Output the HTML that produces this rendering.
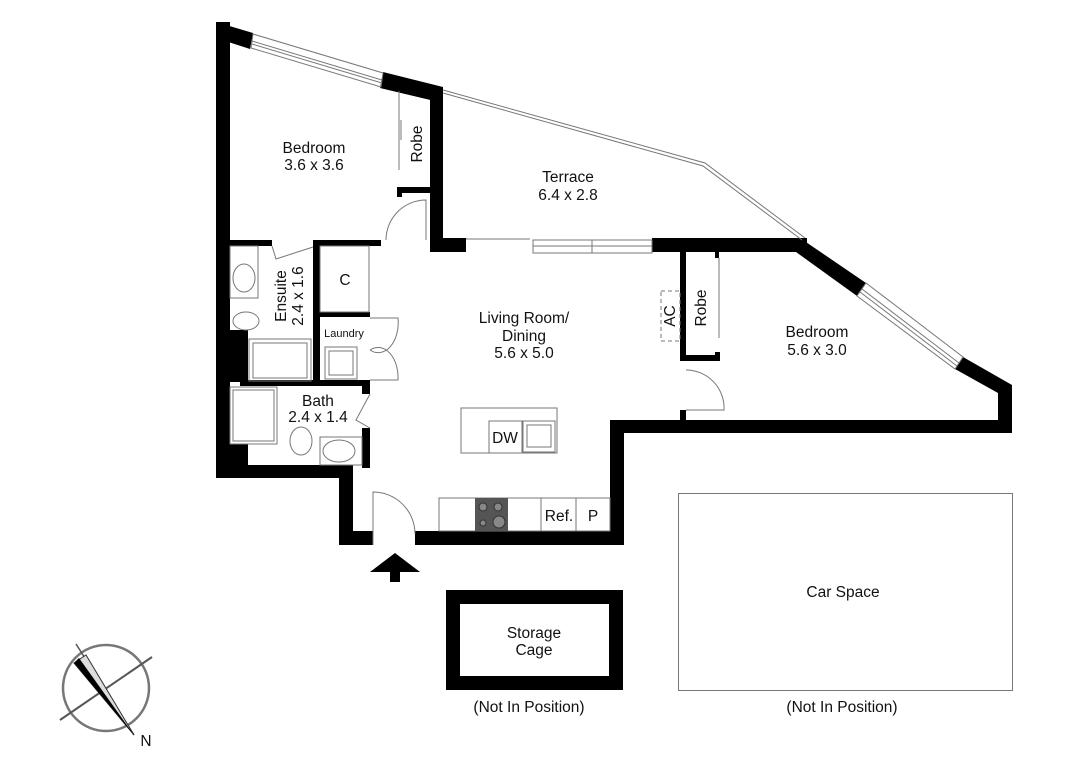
<!DOCTYPE html>
<html><head><meta charset="utf-8"><style>
html,body{margin:0;padding:0;background:#fff;}
svg{display:block;font-family:"Liberation Sans",Arial,sans-serif;}
text{fill:#111;}
</style></head><body>
<svg width="1079" height="769" viewBox="0 0 1079 769" xmlns="http://www.w3.org/2000/svg">
<g fill="#000" stroke="none">
<rect x="216" y="22" width="14" height="456"/>
<rect x="216" y="330" width="32" height="52"/>
<rect x="216" y="382" width="14" height="60"/>
<rect x="216" y="440" width="32" height="38"/>
<polygon points="216,22 253,33 250,49 216,38"/>
<polygon points="383,72 443,87 443,103 380,88"/>
<rect x="430" y="88" width="13" height="164"/>
<rect x="430" y="238" width="36" height="14"/>
<rect x="652" y="238" width="155" height="14"/>
<polygon points="800,238 866,283 857,296 796,252"/>
<polygon points="963,357 1012,385 1012,433 998,433 998,393 955,369"/>
<rect x="610" y="420" width="402" height="13"/>
<rect x="610" y="420" width="14" height="125"/>
<rect x="415" y="531" width="209" height="14"/>
<rect x="339" y="465" width="14" height="80"/>
<rect x="339" y="531" width="34" height="14"/>
<rect x="216" y="465" width="137" height="13"/>
<rect x="230" y="240" width="42" height="6"/>
<rect x="313" y="240" width="68" height="6"/>
<rect x="313" y="240" width="7" height="145"/>
<rect x="320" y="312" width="50" height="5"/>
<rect x="240" y="380" width="130" height="6"/>
<rect x="362" y="380" width="8" height="14"/>
<rect x="362" y="428" width="8" height="40"/>
<rect x="397" y="187" width="34" height="6"/>
<rect x="397" y="187" width="5" height="10"/>
<rect x="680" y="252" width="6" height="104"/>
<rect x="680" y="355" width="40" height="6"/>
<rect x="715" y="352" width="5" height="9"/>
<rect x="680" y="410" width="6" height="12"/>
<rect x="715" y="252" width="4" height="6"/>
</g>
<g fill="none" stroke="#777" stroke-width="1">
<polygon points="253,34 383,73 381,87 251,48"/>
<line x1="252" y1="41" x2="382" y2="80"/>
<line x1="252" y1="44" x2="382" y2="83"/>
<polyline points="443,90 705,163 805,238"/>
<polyline points="443,93 703,166 802,240"/>
<line x1="466" y1="239" x2="530" y2="239"/>
<rect x="533" y="240" width="119" height="13"/>
<line x1="533" y1="246" x2="652" y2="246"/>
<line x1="592" y1="240" x2="592" y2="253"/>
<polygon points="866,283 963,357 955,369 857,296"/>
<line x1="862" y1="289" x2="959" y2="363"/>
<line x1="860" y1="292" x2="957" y2="366"/>
<line x1="399" y1="91" x2="399" y2="170"/>
<line x1="401" y1="120" x2="401" y2="140"/>
<line x1="719" y1="258" x2="719" y2="338"/>
<path d="M386,240 A40,40 0 0 1 426,200 L426,240"/>
<path d="M272,246 L276,259 L313,247"/>
<path d="M686,370 A38,38 0 0 1 724,410 L686,410"/>
<path d="M373,545 V492 A42,42 0 0 1 415,534"/>
<path d="M370,318 H398 A20,30 0 0 1 370,350"/>
<path d="M370,380 H398 A20,30 0 0 0 370,350"/>
<path d="M370,394 L356,420 L370,428"/>
<rect x="320" y="246" width="49" height="66"/>
<rect x="230" y="246" width="28" height="52"/>
<ellipse cx="244" cy="278" rx="11" ry="14"/>
<ellipse cx="246" cy="321" rx="13" ry="9"/>
<rect x="249" y="339" width="62" height="42"/>
<rect x="253" y="343" width="54" height="35"/>
<rect x="325" y="347" width="32" height="32"/>
<rect x="329" y="351" width="24" height="24"/>
<rect x="230" y="387" width="47" height="57" fill="#fff"/>
<rect x="233" y="390" width="41" height="51"/>
<ellipse cx="301" cy="441" rx="11" ry="14"/>
<rect x="320" y="437" width="42" height="28"/>
<ellipse cx="339" cy="451" rx="16" ry="11"/>
<rect x="661" y="291" width="19" height="50" stroke-dasharray="4,3"/>
<rect x="461" y="408" width="96" height="45"/>
<rect x="489" y="421" width="33" height="32"/>
<rect x="523" y="421" width="32" height="31"/>
<rect x="527" y="425" width="24" height="22"/>
<rect x="439" y="498" width="171" height="33"/>
<line x1="541" y1="498" x2="541" y2="531"/>
<line x1="576" y1="498" x2="576" y2="531"/>
<rect x="678.5" y="493.5" width="334" height="197"/>
</g>
<rect x="475" y="498" width="33" height="33" fill="#555"/>
<g fill="#888" stroke="#333"><circle cx="483" cy="507" r="4"/><circle cx="498" cy="507" r="4"/><circle cx="483" cy="523" r="3"/><circle cx="499" cy="522" r="6"/></g>
<rect x="453" y="597" width="163" height="86" fill="none" stroke="#000" stroke-width="14"/>
<polygon points="370,572 395,553 420,572 400,572 400,582 390,582 390,572" fill="#000"/>
<!-- compass -->
<circle cx="106" cy="688" r="43" fill="none" stroke="#777" stroke-width="2.5"/>
<line x1="60" y1="720" x2="152" y2="657" stroke="#555" stroke-width="2"/>
<line x1="76" y1="644" x2="134" y2="735" stroke="#555" stroke-width="1.5"/>
<polygon points="74,663 86,655 134,735" fill="#ddd" stroke="#333"/>
<polygon points="74,663 79,658 134,735" fill="#000"/>
<g font-size="15.5" text-anchor="middle">
<text x="314" y="153">Bedroom</text><text x="314" y="170">3.6 x 3.6</text>
<text x="418" y="144" transform="rotate(-90 418 144)" dominant-baseline="middle">Robe</text>
<text x="568" y="182">Terrace</text><text x="568" y="200">6.4 x 2.8</text>
<text x="282" y="296" transform="rotate(-90 282 296)" dominant-baseline="middle">Ensuite</text>
<text x="299" y="296" transform="rotate(-90 299 296)" dominant-baseline="middle">2.4 x 1.6</text>
<text x="345" y="285">C</text>
<text x="344" y="337" font-size="11">Laundry</text>
<text x="524" y="323">Living Room/</text><text x="524" y="341">Dining</text><text x="524" y="358">5.6 x 5.0</text>
<text x="671" y="316" transform="rotate(-90 671 316)" dominant-baseline="middle">AC</text>
<text x="702" y="308" transform="rotate(-90 702 308)" dominant-baseline="middle">Robe</text>
<text x="817" y="337">Bedroom</text><text x="817" y="355">5.6 x 3.0</text>
<text x="318" y="406">Bath</text><text x="318" y="422">2.4 x 1.4</text>
<text x="505" y="443">DW</text>
<text x="559" y="521">Ref.</text><text x="593" y="521">P</text>
<text x="534" y="638">Storage</text><text x="534" y="655">Cage</text>
<text x="529" y="712">(Not In Position)</text>
<text x="843" y="597">Car Space</text>
<text x="842" y="712">(Not In Position)</text>
<text x="146" y="746">N</text>
</g>
</svg>
</body></html>
